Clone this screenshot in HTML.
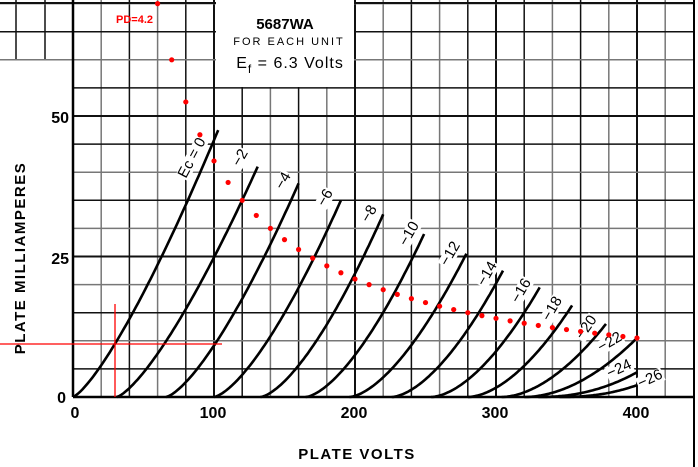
<!DOCTYPE html>
<html><head><meta charset="utf-8"><style>
html,body{margin:0;padding:0;background:#fff;}
svg{display:block;font-family:"Liberation Sans",sans-serif;}
</style></head><body>
<svg id="s" width="698" height="467" viewBox="0 0 698 467" xmlns="http://www.w3.org/2000/svg">
<rect width="698" height="467" fill="#fff"/>
<g id="grid"></g>
<rect x="216" y="0" width="138" height="87" fill="#fff"/>
<text x="285" y="29" font-size="15" font-weight="bold" text-anchor="middle">5687WA</text>
<text x="289" y="45" font-size="11" text-anchor="middle" letter-spacing="2">FOR EACH UNIT</text>
<text x="290" y="68" font-size="16" text-anchor="middle" letter-spacing="1">E<tspan font-size="12" dy="5">f</tspan><tspan dy="-5"> = 6.3 Volts</tspan></text>
<g id="curves"></g>
<g id="labels" font-size="15"></g>
<line x1="0" y1="344" x2="222" y2="344" stroke="#f00" stroke-width="1.3"/>
<line x1="115" y1="304" x2="115" y2="397" stroke="#f00" stroke-width="1.3"/>
<g id="dots" fill="#f00"></g>
<text x="116" y="23" font-size="11" font-weight="bold" fill="#f00">PD=4.2</text>
<g font-weight="bold" font-size="16">
<text x="66" y="403" text-anchor="end">0</text>
<text x="69" y="264" text-anchor="end">25</text>
<text x="69" y="123" text-anchor="end">50</text>
<text x="75" y="418" text-anchor="middle">0</text>
<text x="213" y="418" text-anchor="middle">100</text>
<text x="354" y="418" text-anchor="middle">200</text>
<text x="495" y="418" text-anchor="middle">300</text>
<text x="636" y="418" text-anchor="middle">400</text>
<text x="357" y="459" text-anchor="middle" font-size="15" letter-spacing="1.5">PLATE VOLTS</text>
<text transform="translate(25,258) rotate(-90)" text-anchor="middle" font-size="15" letter-spacing="1.5">PLATE MILLIAMPERES</text>
</g>
</svg>
<script>
var NS="http://www.w3.org/2000/svg";
function el(p,t,a){var e=document.createElementNS(NS,t);for(var k in a)e.setAttribute(k,a[k]);p.appendChild(e);return e;}
function X(v){return 73+v*1.41;}
function Y(i){return 397-i*5.62;}
var g=document.getElementById('grid');
for(var k=0;k<=22;k++){var x=73+k*28.2;if(x>693)break;
 var dark=(k%5==0)||(k%2==0);
 el(g,'line',{x1:x,y1:0,x2:x,y2:397,stroke:dark?'#111':'#777','stroke-width':k%5==0?2:1.5});}
[16,45].forEach(function(x){el(g,'line',{x1:x,y1:0,x2:x,y2:60,stroke:'#111','stroke-width':1.5});});
for(var k=0;k<=14;k++){var y=397-k*28.1;
 var dark=(k%5==0)||(k%2==1);
 el(g,'line',{x1:(k>=12?0:73),y1:y,x2:693,y2:y,stroke:dark?'#111':'#777','stroke-width':k%5==0?2:1.5});}
el(g,'line',{x1:0,y1:3,x2:693,y2:3,stroke:'#111','stroke-width':2});
el(g,'line',{x1:73,y1:0,x2:73,y2:397,stroke:'#000','stroke-width':2.5});
el(g,'line',{x1:73,y1:397,x2:693,y2:397,stroke:'#000','stroke-width':2.5});
el(g,'line',{x1:694,y1:0,x2:694,y2:467,stroke:'#000','stroke-width':2});
var C=[[0,0,103,47.5,1.3],[2,31,131,41,1.35],[4,66,160,38,1.4],[6,100,190,35,1.45],[8,133,220,32.5,1.5],
[10,165,249,29,1.55],[12,196,279,25.5,1.6],[14,226,305,22.5,1.65],[16,254,331,19.5,1.7],[18,280,354,16.3,1.75],
[20,304,378,13,1.8],[22,320,400,10.5,1.9],[24,330,400,4.4,2.2],[26,345,400,2.1,2.3]];
var cg=document.getElementById('curves');
C.forEach(function(c){var d='';for(var i=0;i<=60;i++){var v=c[1]+(c[2]-c[1])*i/60;var I=c[3]*Math.pow(i/60,c[4]);
 d+=(i?'L':'M')+X(v).toFixed(1)+' '+Y(I).toFixed(1);}
 el(cg,'path',{d:d,fill:'none',stroke:'#000','stroke-width':2.6});});
var lg=document.getElementById('labels');
function lab(x,y,t,r){var e=el(lg,'text',{x:0,y:0,transform:'translate('+x+','+y+') rotate('+r+')','text-anchor':'middle'});e.textContent=t;
 var bb=e.getBBox();var rc=document.createElementNS(NS,'rect');rc.setAttribute('x',bb.x-1);rc.setAttribute('y',bb.y+2);rc.setAttribute('width',bb.width+2);rc.setAttribute('height',bb.height-3);rc.setAttribute('fill','#fff');rc.setAttribute('transform',e.getAttribute('transform'));lg.insertBefore(rc,e);}
lab(196,160,'Ec = 0',-62);
var L=[[244,160,'−2',-60],[287,183,'−4',-60],[329,200,'−6',-60],[373,216,'−8',-60],[413,236,'−10',-60],[454,256,'−12',-60],[491,276,'−14',-60],[525,293,'−16',-60],[556,311,'−18',-60],[590,330,'−20',-55],[612,346,'−22',-30],[621,373,'−24',-25],[652,383,'−26',-25]];
L.forEach(function(l){lab(l[0],l[1],l[2],l[3]);});
var dg=document.getElementById('dots');
for(var v=60;v<=400;v+=10){var I=4200/v;el(dg,'circle',{cx:X(v),cy:Y(I),r:2.6});}
</script>
</body></html>
